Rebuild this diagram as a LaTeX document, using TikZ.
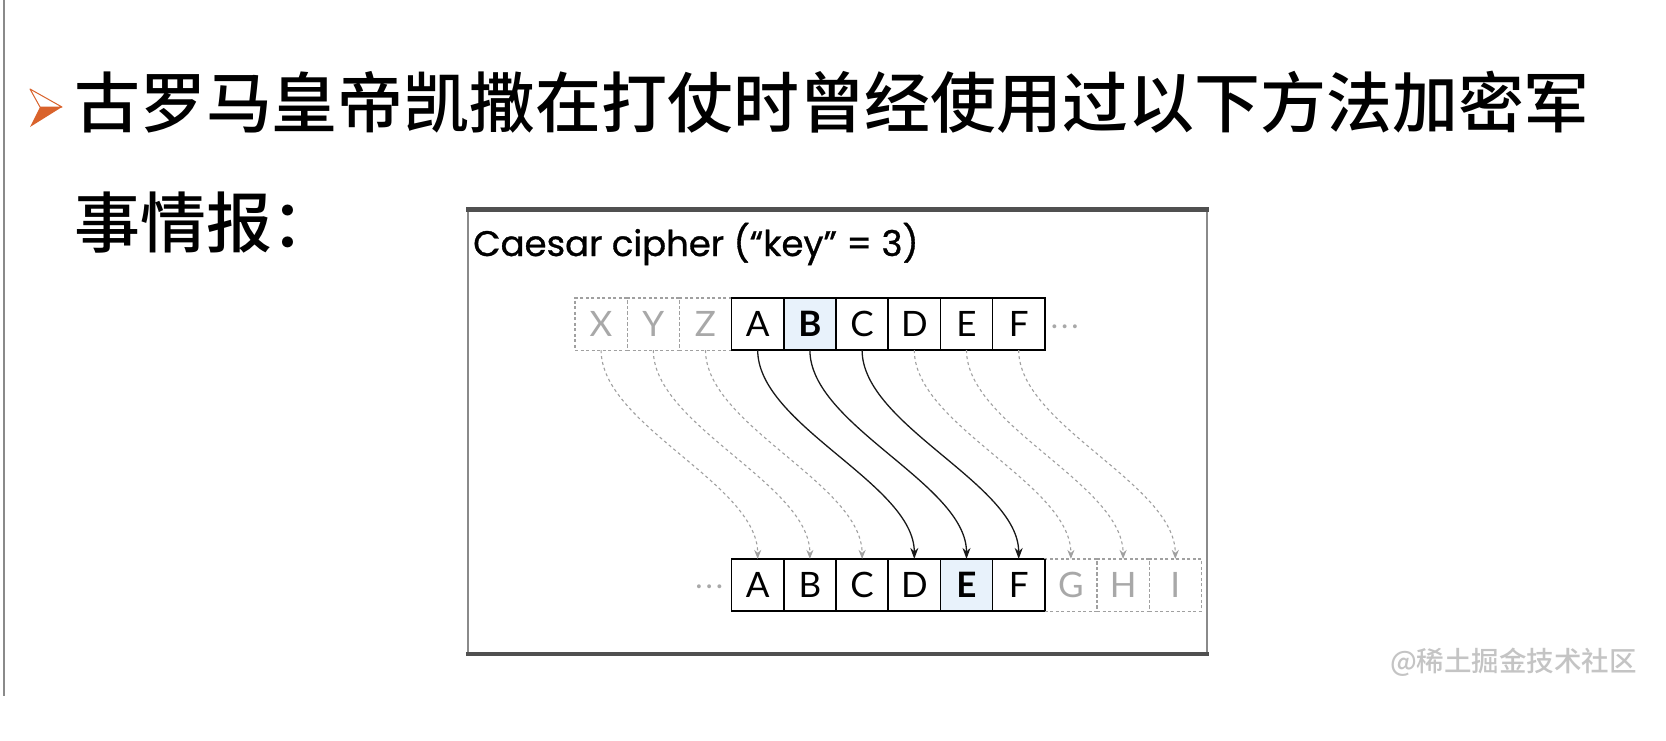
\documentclass[tikz,border=0pt]{standalone}
\usepackage{fontspec}
\usetikzlibrary{arrows.meta}
\newfontfamily\cjk{Noto Sans CJK SC}[UprightFont={* Medium}]
\newfontfamily\lat{Lato}
\newfontfamily\pop{Poppins}[FakeBold=0.9]
\definecolor{bulletorange}{HTML}{D9622B}
\definecolor{cellgray}{HTML}{A8A8A8}
\definecolor{dashgray}{HTML}{A0A0A0}
\definecolor{hilite}{HTML}{E8F2FB}
\definecolor{framedark}{HTML}{505050}
\definecolor{frameside}{HTML}{8A8A8A}
\definecolor{marktext}{HTML}{C4C4C4}
\begin{document}
\begin{tikzpicture}[x=1pt,y=-1pt,
  cellbox/.style={minimum width=52.2pt,minimum height=52.2pt,inner sep=0pt,outer sep=0pt,font=\lat\fontsize{35}{40}\selectfont},
  solidcell/.style={cellbox,draw=black,line width=1.5pt},
  ghostcell/.style={cellbox,draw=dashgray,line width=1.2pt,dash pattern=on 3pt off 2.5pt,text=cellgray},
  keycell/.style={solidcell,fill=hilite,font=\lat\bfseries\fontsize{35}{40}\selectfont},
  shiftarrow/.style={draw=black!90,line width=1.3pt,-{Stealth[length=11pt,width=8pt]}},
  ghostarrow/.style={draw=dashgray,line width=1.1pt,dash pattern=on 3pt off 3pt,-{Stealth[length=9pt,width=7pt]}},
  dotstext/.style={inner sep=0pt,text=cellgray,font=\lat\fontsize{26}{30}\selectfont},
  cjktext/.style={anchor=base west,inner sep=0pt},
  ]
\useasboundingbox (0,0) rectangle (1666,740);
\fill[white] (0,0) rectangle (1666,740);
% left rule
\draw[frameside,line width=1.8pt] (4,0) -- (4,696);
% bullet
\filldraw[draw=bulletorange,fill=white,line width=1pt,line join=round] (30,89) -- (62,107) -- (40,107) -- cycle;
\fill[bulletorange] (40,107) -- (62,107) -- (30,127) -- cycle;
% heading text
\node[cjktext,font=\cjk\fontsize{65.9}{70}\selectfont] (line1) at (74,127) {古罗马皇帝凯撒在打仗时曾经使用过以下方法加密军};
\node[cjktext,font=\cjk\fontsize{65.9}{70}\selectfont] (line2) at (74,247) {事情报：};
% frame
\draw[frameside,line width=2pt] (468,209) -- (468,654);
\draw[frameside,line width=2pt] (1207,209) -- (1207,654);
\draw[framedark,line width=4.5pt] (466,209.5) -- (1209,209.5);
\draw[framedark,line width=4.5pt] (466,654) -- (1209,654);
% title
\node[anchor=base west,inner sep=0pt,font=\pop\fontsize{35.5}{40}\selectfont] (title) at (473,256) {Caesar cipher (“key” = 3)};
% top row
\node[ghostcell] (tX) at (601.1,324) {X};
\node[ghostcell] (tY) at (653.3,324) {Y};
\node[ghostcell] (tZ) at (705.5,324) {Z};
\node[solidcell] (tA) at (757.7,324) {A};
\node[keycell]   (tB) at (809.9,324) {B};
\node[solidcell] (tC) at (862.1,324) {C};
\node[solidcell] (tD) at (914.3,324) {D};
\node[solidcell] (tE) at (966.5,324) {E};
\node[solidcell] (tF) at (1018.7,324) {F};
\node[dotstext,anchor=west] (tdots) at (1051,330) {·\hspace{3.5pt}·\hspace{3.5pt}·};
% bottom row
\node[dotstext,anchor=east] (bdots) at (723,590) {·\hspace{3.5pt}·\hspace{3.5pt}·};
\node[solidcell] (bA) at (757.7,585) {A};
\node[solidcell] (bB) at (809.9,585) {B};
\node[solidcell] (bC) at (862.1,585) {C};
\node[solidcell] (bD) at (914.3,585) {D};
\node[keycell]   (bE) at (966.5,585) {E};
\node[solidcell] (bF) at (1018.7,585) {F};
\node[ghostcell] (bG) at (1070.9,585) {G};
\node[ghostcell] (bH) at (1123.1,585) {H};
\node[ghostcell] (bI) at (1175.3,585) {I};
% redraw solid borders over dashed neighbours
\draw[black,line width=1.5pt] (tA.north west) -- (tA.south west);
\draw[black,line width=1.5pt] (bF.north east) -- (bF.south east);
% connectors
\foreach \s/\t in {tX/bA,tY/bB,tZ/bC,tD/bG,tE/bH,tF/bI}
  \draw[ghostarrow] (\s.south) .. controls +(0,75) and +(0,-75) .. (\t.north);
\foreach \s/\t in {tA/bD,tB/bE,tC/bF}
  \draw[shiftarrow] (\s.south) .. controls +(0,75) and +(0,-75) .. (\t.north);
% watermark
\node[cjktext,font=\cjk\fontsize{27.5}{30}\selectfont,text=marktext] (mark) at (1390,671) {@稀土掘金技术社区};
\end{tikzpicture}
\end{document}
